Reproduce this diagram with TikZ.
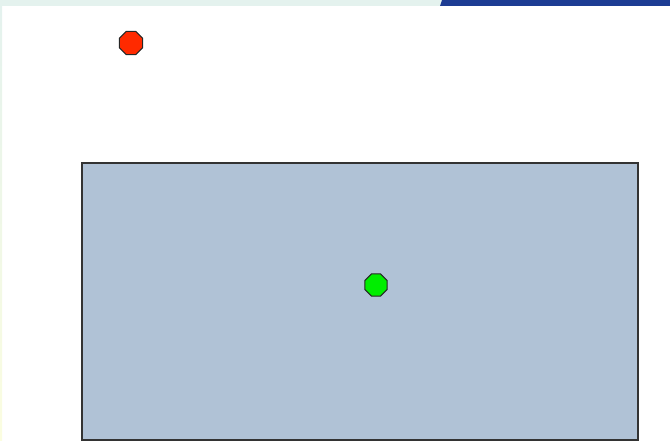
\documentclass[tikz,border=0pt]{standalone}
\usepackage{xcolor}
\usepackage{tikz}
\usetikzlibrary{shapes.geometric}

\definecolor{stripgreen}{HTML}{E4F2EE}
\definecolor{stripyellow}{HTML}{FBFDE0}
\definecolor{bandblue}{HTML}{1D3C93}
\definecolor{panelblue}{HTML}{B0C2D6}
\definecolor{dotred}{HTML}{FF2A00}
\definecolor{dotgreen}{HTML}{00EE00}

\begin{document}
\begin{tikzpicture}[
    x=1pt, y=-1pt,
    every node/.style={regular polygon, regular polygon sides=8,
        draw=black!85, line width=1pt, inner sep=0pt, minimum size=25pt}
]
\useasboundingbox (0,0) rectangle (670,441);
% frame of the slide
\fill[stripgreen] (0,0) rectangle (670,6);
\shade[top color=stripgreen, bottom color=stripyellow] (0,6) rectangle (2,441);
\fill[bandblue] (442,0) -- (670,0) -- (670,6) -- (440,6) -- cycle;
% the panel
\draw[fill=panelblue, draw=black!80, line width=1.2pt] (82,163) rectangle (638,440);
\node[fill=dotred] (red) at (131,43) {};
\node[fill=dotgreen, minimum size=24pt] (green) at (376,285) {};
\end{tikzpicture}
\end{document}
